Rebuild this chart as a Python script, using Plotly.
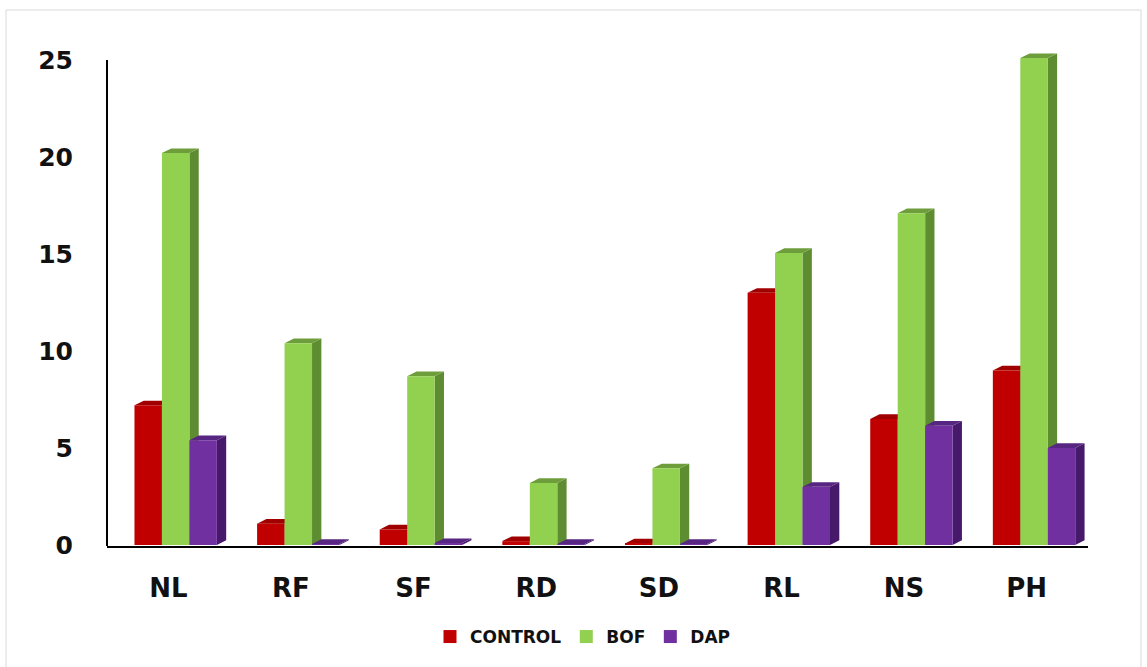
import plotly.graph_objects as go

# Parameters measured for eight growth traits under three treatments
categories = ["NL", "RF", "SF", "RD", "SD", "RL", "NS", "PH"]
control = [7.2, 1.1, 0.8, 0.2, 0.08, 13.0, 6.5, 9.0]
bof = [20.2, 10.4, 8.7, 3.2, 3.95, 15.05, 17.1, 25.1]
dap = [5.4, 0.05, 0.1, 0.05, 0.05, 3.0, 6.15, 5.0]
y_ticks = [0, 5, 10, 15, 20, 25]

series = [
    ("CONTROL", control, "#C00000", "#8E0000", "#A00000"),
    ("BOF", bof, "#92D050", "#5E8C30", "#6E9E3C"),
    ("DAP", dap, "#7030A0", "#46196A", "#572682"),
]

W, H = 1147, 667
L, R, T, B = 107, 1088, 40, 546
px_per_unit = 19.4
y_zero_px = 545
y_min = -(B - y_zero_px) / px_per_unit
y_max = (y_zero_px - T) / px_per_unit

bar_w = 0.224          # width of one column (category units)
group_shift = 0.06     # column group sits slightly right of the tick
depth_x = 0.076        # oblique depth, x direction (category units)
depth_y = 0.24         # oblique depth, y direction (value units)

fig = go.Figure()
side_shapes, top_shapes = [], []

for k, (name, vals, front, side, top) in enumerate(series):
    xs = [i + group_shift + (k - 1) * bar_w for i in range(len(categories))]
    fig.add_trace(go.Bar(
        x=xs, y=vals, width=bar_w, name=name,
        marker=dict(color=front, line=dict(width=0)),
        showlegend=False, hovertemplate=name + ": %{y}<extra></extra>",
    ))
    for xc, v in zip(xs, vals):
        x0, x1 = xc - bar_w / 2, xc + bar_w / 2
        side_path = (f"M {x1},0 L {x1 + depth_x},{depth_y} "
                     f"L {x1 + depth_x},{v + depth_y} L {x1},{v} Z")
        top_path = (f"M {x0},{v} L {x0 + depth_x},{v + depth_y} "
                    f"L {x1 + depth_x},{v + depth_y} L {x1},{v} Z")
        side_shapes.append(dict(type="path", path=side_path, xref="x", yref="y",
                                fillcolor=side, line=dict(width=0), layer="below"))
        top_shapes.append(dict(type="path", path=top_path, xref="x", yref="y",
                               fillcolor=top, line=dict(width=0), layer="below"))
    # legend swatch
    fig.add_trace(go.Scatter(
        x=[None], y=[None], mode="markers", name=name,
        marker=dict(symbol="square", size=13, color=front),
    ))

shapes = []
for s, t in zip(side_shapes, top_shapes):
    shapes.append(s)
    shapes.append(t)

# vertical value axis line, drawn up to the last tick
shapes.append(dict(type="line", xref="paper", yref="y", x0=0, x1=0,
                   y0=y_min, y1=25, line=dict(color="#000000", width=2)))
# light outer frame of the chart
fx0 = (6 - L) / (R - L)
fx1 = (1141 - L) / (R - L)
fy1 = (B - 10) / (B - T)
fy0 = (B - 700) / (B - T)
shapes.append(dict(type="rect", xref="paper", yref="paper",
                   x0=fx0, x1=fx1, y0=fy0, y1=fy1,
                   line=dict(color="#D9D9D9", width=1), layer="below"))

font_family = "DejaVu Sans"
legend_x = (583 - L) / (R - L)
legend_y = (B - 637) / (B - T)

fig.update_layout(
    width=W, height=H,
    margin=dict(l=L, r=W - R, t=T, b=H - B),
    paper_bgcolor="white", plot_bgcolor="white",
    barmode="overlay",
    shapes=shapes,
    showlegend=True,
    legend=dict(orientation="h", x=legend_x, xanchor="center",
                y=legend_y, yanchor="middle",
                font=dict(family=font_family, size=17, color="#111111",
                          weight="bold"),
                itemwidth=30, tracegroupgap=0),
    xaxis=dict(range=[-0.5, 7.5], tickvals=list(range(len(categories))),
               ticktext=categories, showgrid=False, zeroline=False,
               showline=True, linecolor="#000000", linewidth=2,
               ticks="", ticklabelstandoff=18,
               tickfont=dict(family=font_family, size=26, color="#111111",
                             weight="bold")),
    yaxis=dict(range=[y_min, y_max], tickvals=y_ticks,
               showgrid=False, zeroline=False, showline=False,
               ticks="", ticklabelstandoff=33,
               tickfont=dict(family=font_family, size=25, color="#111111",
                             weight="bold")),
)

fig.write_html("out.html")
